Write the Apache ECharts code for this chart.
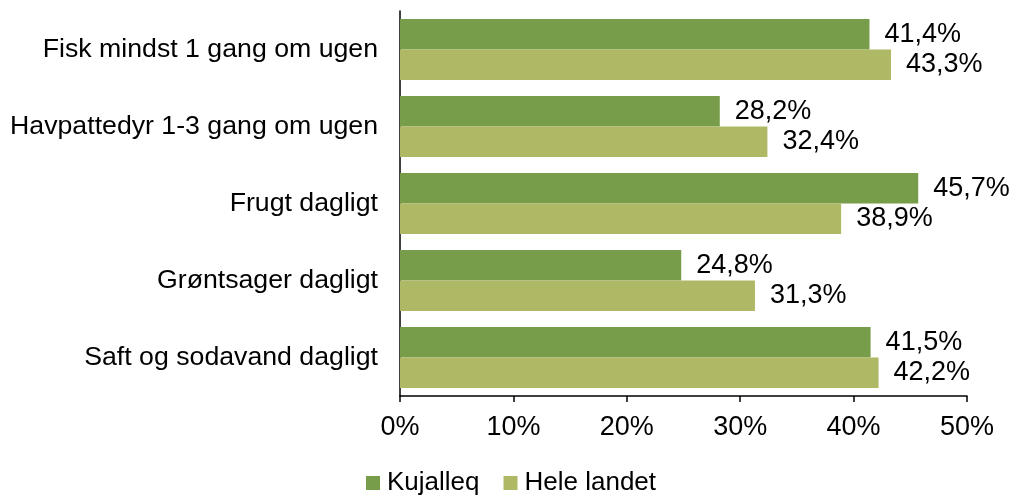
<!DOCTYPE html>
<html>
<head>
<meta charset="utf-8">
<script src="https://cdn.jsdelivr.net/npm/echarts@6/dist/echarts.min.js"></script>
<style>
  html, body { margin: 0; padding: 0; background: #fff; }
  #chart { width: 1011px; height: 495px; }
</style>
</head>
<body>
<div id="chart"></div>
<script>
const categories = [
  'Fisk mindst 1 gang om ugen',
  'Havpattedyr 1-3 gang om ugen',
  'Frugt dagligt',
  'Grøntsager dagligt',
  'Saft og sodavand dagligt'
];
const kujalleq = [41.4, 28.2, 45.7, 24.8, 41.5];
const heleLandet = [43.3, 32.4, 38.9, 31.3, 42.2];
const xTicks = [0, 10, 20, 30, 40, 50];

const font = 'Liberation Sans, Arial, sans-serif';
const pct = v => v.toFixed(1).replace('.', ',') + '%';

const chart = echarts.init(document.getElementById('chart'));

const barLabel = {
  show: true,
  position: 'right',
  distance: 15,
  color: '#000',
  fontSize: 27,
  fontFamily: font,
  formatter: p => pct(p.value)
};

chart.setOption({
  animation: false,
  textStyle: { fontFamily: font },
  grid: { left: 400, right: 44, top: 11, bottom: 99 },
  legend: {
    top: 465,
    left: 361,
    itemWidth: 14,
    itemHeight: 14,
    itemGap: 24,
    icon: 'rect',
    textStyle: { fontSize: 26, color: '#000', fontFamily: font, padding: [0, 0, 0, 2] },
    data: ['Kujalleq', 'Hele landet']
  },
  xAxis: {
    type: 'value',
    min: xTicks[0],
    max: xTicks[xTicks.length - 1],
    interval: 10,
    axisLine: { show: true, lineStyle: { color: '#000', width: 1.5 } },
    axisTick: { show: true, length: 6, lineStyle: { color: '#000', width: 1.5 } },
    splitLine: { show: false },
    axisLabel: {
      color: '#000',
      fontSize: 27,
      margin: 18,
      formatter: v => v + '%'
    }
  },
  yAxis: {
    type: 'category',
    data: categories,
    inverse: true,
    axisLine: { show: true, lineStyle: { color: '#000', width: 1.5 } },
    axisTick: { show: false },
    axisLabel: { color: '#000', fontSize: 26.7, margin: 22 }
  },
  series: [
    {
      name: 'Kujalleq',
      type: 'bar',
      data: kujalleq,
      barGap: '0%',
      barCategoryGap: '21%',
      itemStyle: { color: '#789D4A' },
      label: barLabel
    },
    {
      name: 'Hele landet',
      type: 'bar',
      data: heleLandet,
      barGap: '0%',
      barCategoryGap: '21%',
      itemStyle: { color: '#AFB864' },
      label: barLabel
    }
  ]
});

window.addEventListener('resize', () => chart.resize());
</script>
</body>
</html>
